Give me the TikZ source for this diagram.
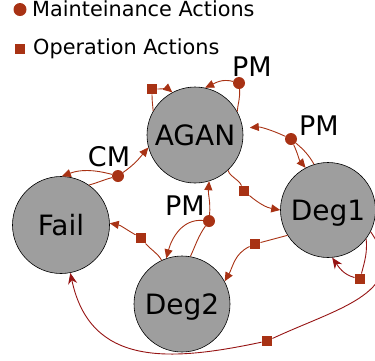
\documentclass[tikz,border=0pt]{standalone}
\usepackage{fontspec}
\setmainfont{DejaVu Sans}
\usetikzlibrary{arrows.meta}
\definecolor{rust}{RGB}{168,50,20}
\definecolor{dred}{RGB}{150,20,20}
\definecolor{stategray}{RGB}{158,158,158}
\begin{document}
\begin{tikzpicture}[x=1pt,y=1pt,
 state/.style={circle,draw=black,line width=0.6pt,fill=stategray,minimum size=96pt,inner sep=0pt,font=\fontsize{28}{30}\selectfont,text depth=0pt},
 lbl/.style={font=\fontsize{27}{29}\selectfont,inner sep=0pt},
 leg/.style={font=\fontsize{20.8}{22}\selectfont,inner sep=0pt,anchor=base west},
 mdot/.style={circle,fill=rust,minimum size=12pt,inner sep=0pt},
 msq/.style={rectangle,fill=rust,minimum size=10.5pt,inner sep=0pt},
 op/.style={draw=rust,line width=0.9pt},
 opa/.style={op,-{Triangle[length=9pt,width=8pt]}},
 dr/.style={draw=dred,line width=0.9pt},
 dra/.style={dr,-{Stealth[length=11pt,width=9pt,inset=3.5pt]}},
]
\useasboundingbox (0,0) rectangle (375,-360);
% states
\node[state] (AGAN) at (195,-135) {AGAN};
\node[state,minimum size=97pt] (Fail) at (61,-225) {Fail};
\node[state] (Deg2) at (182,-304) {Deg2};
\node[state,minimum size=95pt] (Deg1) at (328,-210) {Deg1};
% markers
\node[msq] (s1) at (152,-89) {};
\node[mdot] (d1) at (239,-83) {};
\node[mdot] (d2) at (291,-139) {};
\node[msq] (s2) at (244,-191) {};
\node[mdot] (d3) at (118,-176) {};
\node[mdot] (d4) at (209,-221) {};
\node[msq] (s3) at (141,-238) {};
\node[msq] (s4) at (255,-244) {};
\node[msq] (s5) at (360,-279) {};
\node[msq] (s6) at (267,-341) {};
% labels
\node[lbl] (pm1) at (252,-67) {PM};
\node[lbl] (pm2) at (319,-126) {PM};
\node[lbl] (cm) at (109,-157) {CM};
\node[lbl] (pm3) at (185,-206) {PM};
% legend
\node[mdot,minimum size=13pt] (ld) at (20,-9.5) {};
\node[leg] (lt1) at (32,-16.7) {Mainteinance Actions};
\node[msq] (ls) at (20,-49) {};
\node[leg] (lt2) at (33,-54) {Operation Actions};
% connectors
\draw[op] (AGAN.150) to[out=95,in=-90] (s1);
\draw[opa] (s1) to[out=0,in=140] (AGAN.118);
\draw[op] (AGAN.29) to[out=85,in=-85] (d1);
\draw[opa] (d1) to[out=165,in=25] (AGAN.78);
\draw[op] (Deg1.107) to[out=120,in=-40] (d2);
\draw[opa,shorten >=7pt] (d2) to[out=155,in=5] (AGAN.8);
\draw[opa] (d2) to[out=-65,in=130] (Deg1.118);
\draw[op] (AGAN.-47) to[out=-70,in=115] (s2);
\draw[opa] (s2) to[out=-40,in=170] (Deg1.180);
\draw[op] (Fail.55) to[out=15,in=195] (d3);
\draw[opa] (d3) to[out=165,in=20] (Fail.89);
\draw[opa] (d3) to[out=35,in=-130] (AGAN.195);
\draw[op] (Deg2.80) to[out=65,in=-125] (d4);
\draw[opa] (d4) to[out=85,in=-95] (AGAN.287);
\draw[opa] (d4) to[out=175,in=75] (Deg2.109);
\draw[op] (Deg2.115) to[out=120,in=-50] (s3);
\draw[opa] (s3) to[out=150,in=-10] (Fail.2);
\draw[op] (Deg1.212) to[out=195,in=15] (s4);
\draw[opa] (s4) to[out=205,in=60] (Deg2.28);
\draw[dr] (Deg1.-37) to[out=-85,in=75] (s5);
\draw[dra] (s5) to[out=165,in=-55] (Deg1.-85);
\draw[dr] (Deg1.-27) to[out=-55,in=25,looseness=1.3] (s6);
\draw[dra] (s6) to[out=192,in=-78,looseness=1.2] (Fail.-79);
\end{tikzpicture}
\end{document}
